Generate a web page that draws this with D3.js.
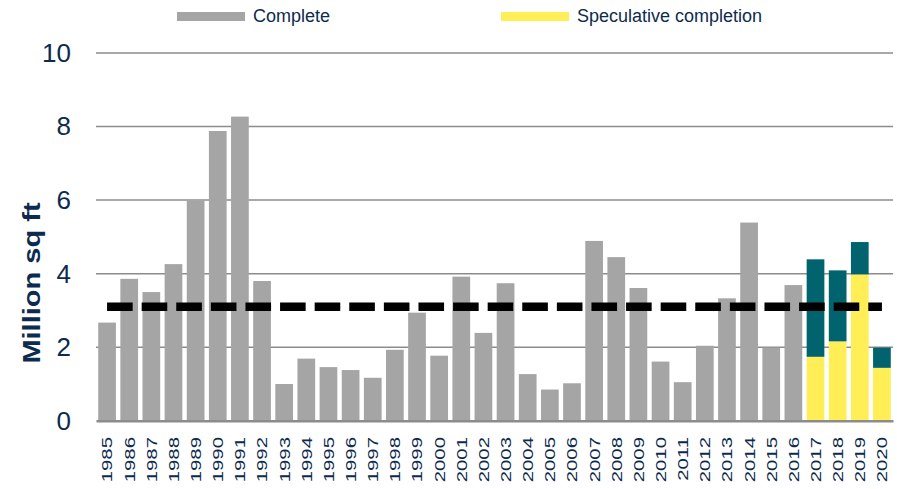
<!DOCTYPE html>
<html>
<head>
<meta charset="utf-8">
<script src="https://cdn.jsdelivr.net/npm/d3@7"></script>
<style>
  html, body { margin: 0; padding: 0; background: #fff; }
  svg { display: block; font-family: "Liberation Sans", Arial, sans-serif; }
</style>
</head>
<body>
<svg id="chart" width="897" height="489"></svg>
<script>
// Office completions, million sq ft
const years = d3.range(1985, 2021).map(String);
const complete = [2.67, 3.86, 3.50, 4.26, 5.98, 7.88, 8.27, 3.80, 1.00, 1.69,
                  1.46, 1.38, 1.17, 1.93, 2.94, 1.77, 3.92, 2.39, 3.74, 1.27,
                  0.85, 1.02, 4.89, 4.45, 3.61, 1.61, 1.05, 2.04, 3.33, 5.39,
                  1.99, 3.69, 0, 0, 0, 0];
const speculative = [0, 0, 0, 0, 0, 0, 0, 0, 0, 0, 0, 0, 0, 0, 0, 0, 0, 0, 0, 0,
                     0, 0, 0, 0, 0, 0, 0, 0, 0, 0, 0, 0, 1.74, 2.16, 3.98, 1.44];
const preLet = [0, 0, 0, 0, 0, 0, 0, 0, 0, 0, 0, 0, 0, 0, 0, 0, 0, 0, 0, 0,
                0, 0, 0, 0, 0, 0, 0, 0, 0, 0, 0, 0, 2.65, 1.93, 0.88, 0.55];
const longTermAverage = 3.10;
const yTicks = [0, 2, 4, 6, 8, 10];
const seriesKeys = ["complete", "speculative", "preLet"];
const seriesColors = { complete: "#a5a5a5", speculative: "#ffee55", preLet: "#00636e" };
const legendItems = [
  { key: "complete", label: "Complete" },
  { key: "speculative", label: "Speculative completion" }
];

const table = years.map((y, i) => ({
  year: y, complete: complete[i], speculative: speculative[i], preLet: preLet[i]
}));

const svg = d3.select("#chart");
const textColor = "#0d2b4e";
const margin = { left: 96, right: 4, top: 53, bottom: 68 };
const W = 897, H = 489;

const x = d3.scaleBand().domain(years)
  .range([margin.left, W - margin.right]).paddingInner(0.2).paddingOuter(0.1);
const y = d3.scaleLinear().domain([0, 10]).range([420.8, 53]);

// gridlines
svg.append("g")
  .selectAll("line").data(yTicks.filter(t => t > 0)).join("line")
  .attr("x1", margin.left).attr("x2", W - margin.right)
  .attr("y1", d => y(d)).attr("y2", d => y(d))
  .attr("stroke", "#8c8c8c").attr("stroke-width", 1.5);

// stacked bars
const stacked = d3.stack().keys(seriesKeys)(table);
svg.append("g").selectAll("g").data(stacked).join("g")
  .attr("fill", d => seriesColors[d.key])
  .selectAll("rect").data(d => d).join("rect")
  .attr("x", d => x(d.data.year))
  .attr("width", x.bandwidth())
  .attr("y", d => y(d[1]))
  .attr("height", d => y(d[0]) - y(d[1]));

// baseline axis
const xAxis = svg.append("g").attr("transform", `translate(0,${y(0)})`)
  .call(d3.axisBottom(x).tickSize(0).tickFormat(""));
xAxis.select(".domain").attr("stroke", "#8c8c8c").attr("stroke-width", 2.5);

// year labels, rotated
svg.append("g").selectAll("text").data(years).join("text")
  .attr("transform", d => `translate(${x(d) + x.bandwidth() / 2},437) rotate(-90) scale(1.36,1)`)
  .attr("text-anchor", "end")
  .attr("dy", "0.36em")
  .attr("font-size", 15)
  .attr("fill", textColor)
  .text(d => d);

// y axis labels
const yAxis = svg.append("g").attr("transform", `translate(${margin.left},0)`)
  .call(d3.axisLeft(y).tickValues(yTicks).tickSize(0).tickPadding(25).tickFormat(d3.format("d")));
yAxis.select(".domain").remove();
yAxis.selectAll("text")
  .attr("font-size", 26)
  .attr("font-family", "'Liberation Sans', Arial, sans-serif")
  .attr("fill", textColor);

// y axis title
svg.append("text")
  .attr("transform", "translate(32,283) rotate(-90) scale(1.21,1)")
  .attr("text-anchor", "middle")
  .attr("dy", "0.35em")
  .attr("font-size", 24)
  .attr("font-weight", "bold")
  .attr("fill", textColor)
  .text("Million sq ft");

// long-term average
svg.append("line")
  .attr("x1", x(years[0]) + x.bandwidth() / 2)
  .attr("x2", x(years[years.length - 1]) + x.bandwidth() / 2)
  .attr("y1", y(longTermAverage)).attr("y2", y(longTermAverage))
  .attr("stroke", "#000").attr("stroke-width", 8.5)
  .attr("stroke-dasharray", "25.6 9");

// legend
const legendPos = { complete: 177, speculative: 501 };
const lg = svg.append("g").selectAll("g").data(legendItems).join("g")
  .attr("transform", d => `translate(${legendPos[d.key]},0)`);
lg.append("rect").attr("x", 0).attr("y", 12).attr("width", 68).attr("height", 9)
  .attr("fill", d => seriesColors[d.key]);
lg.append("text").attr("x", 76).attr("y", 21.5)
  .attr("font-size", 18).attr("fill", textColor)
  .text(d => d.label);
</script>
</body>
</html>
